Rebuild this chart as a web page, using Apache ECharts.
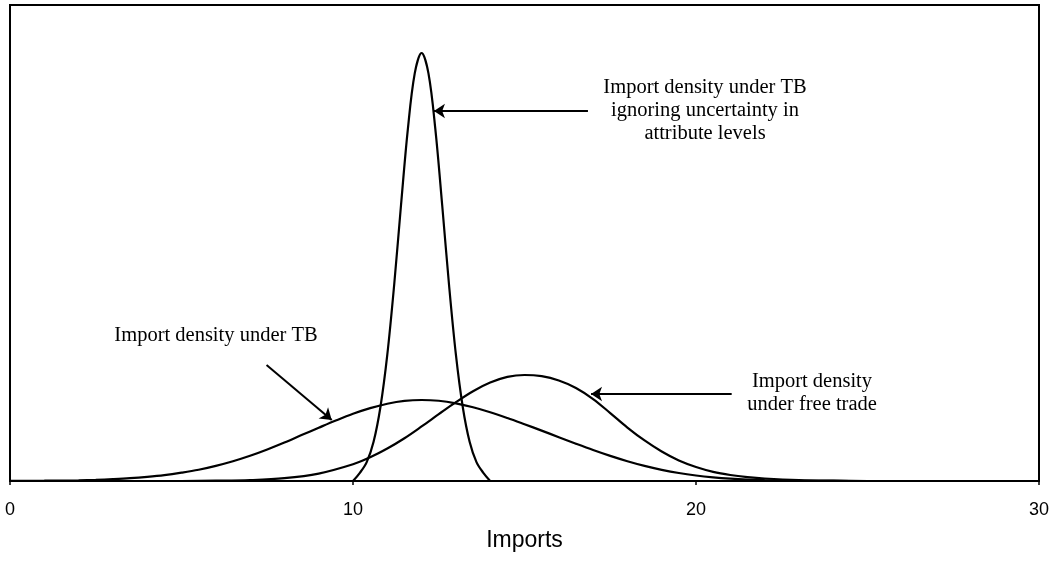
<!DOCTYPE html>
<html>
<head>
<meta charset="utf-8">
<script src="https://cdn.jsdelivr.net/npm/echarts@6/dist/echarts.min.js"></script>
<style>
html,body{margin:0;padding:0;background:#fff;}
#chart{width:1060px;height:562px;}
</style>
</head>
<body>
<div id="chart"></div>
<script>
// ---- data ----
var xTicks = [0, 10, 20, 30];
var xAxisTitle = 'Imports';

// Import density under TB ignoring uncertainty in attribute levels
var narrowX = [10, 10.2, 10.4, 10.6, 10.8, 11, 11.2, 11.4, 11.6, 11.8, 12, 12.2, 12.4, 12.6, 12.8, 13, 13.2, 13.4, 13.6, 13.8, 14];
var narrowY = [0, 0.0117, 0.0270, 0.0560, 0.1057, 0.1804, 0.2800, 0.3943, 0.5031, 0.5823, 0.6114, 0.5823, 0.5031, 0.3943, 0.2800, 0.1804, 0.1057, 0.0560, 0.0270, 0.0117, 0];

// Import density under TB
var tbX = [0, 1, 2, 2.5, 3, 3.5, 4, 4.5, 5, 5.5, 6, 6.5, 7, 7.5, 8, 8.5, 9, 9.5, 10, 10.5, 11, 11.5, 12, 12.5, 13, 13.5, 14, 14.5, 15, 15.5, 16, 16.5, 17, 17.5, 18, 18.5, 19, 19.5, 20, 20.5, 21, 21.5, 22, 23, 24, 25, 30];
var tbY = [0.0001, 0.0004, 0.0011, 0.0017, 0.0027, 0.0040, 0.0059, 0.0084, 0.0119, 0.0161, 0.0217, 0.0283, 0.0361, 0.0451, 0.0550, 0.0656, 0.0761, 0.0864, 0.0960, 0.1041, 0.1104, 0.1144, 0.1157, 0.1146, 0.1110, 0.1054, 0.0983, 0.0900, 0.0811, 0.0720, 0.0626, 0.0533, 0.0443, 0.0359, 0.0283, 0.0216, 0.0160, 0.0114, 0.0079, 0.0053, 0.0034, 0.0021, 0.0013, 0.0004, 0.0001, 0, 0];

// Import density under free trade
var ftX = [0, 5, 6, 7, 8, 9, 10, 10.5, 11, 11.5, 12, 12.5, 13, 13.5, 14, 14.5, 15, 15.5, 16, 16.5, 17, 17.5, 18, 18.5, 19, 19.5, 20, 20.5, 21, 21.5, 22, 23, 24, 25, 30];
var ftY = [0, 0, 0.0004, 0.0013, 0.0040, 0.0106, 0.0239, 0.0339, 0.0464, 0.0611, 0.0779, 0.0954, 0.1126, 0.1283, 0.1406, 0.1487, 0.1514, 0.1497, 0.1436, 0.1329, 0.1171, 0.0971, 0.0764, 0.0579, 0.0421, 0.0293, 0.0200, 0.0131, 0.0086, 0.0056, 0.0036, 0.0013, 0.0004, 0, 0];

// annotation texts
var labelNarrow = 'Import density under TB\nignoring uncertainty in\nattribute levels';
var labelTB = 'Import density under TB';
var labelFT = 'Import density\nunder free trade';

function pairs(xs, ys) { return xs.map(function (x, i) { return [x, ys[i]]; }); }

var chart = echarts.init(document.getElementById('chart'), null, {renderer: 'canvas'});

var lineBase = {
  type: 'line', showSymbol: false, symbol: 'none', smooth: 0.35,
  lineStyle: {color: '#000', width: 2.2}, silent: true, animation: false
};

var arrowStyle = {color: '#000', width: 2, type: 'solid'};
function arrow(x1, y1, x2, y2) {
  return [{coord: [x1, y1], symbol: 'none'}, {coord: [x2, y2], symbol: 'arrow', symbolSize: 11}];
}

chart.setOption({
  backgroundColor: '#fff',
  animation: false,
  grid: {left: 10, right: 21, top: 5, bottom: 81, show: true, borderColor: '#000', borderWidth: 2, containLabel: false},
  xAxis: {
    type: 'value', min: 0, max: 30, interval: 10,
    axisLine: {show: true, lineStyle: {color: '#000', width: 2}},
    axisTick: {show: true, length: 4, lineStyle: {color: '#000', width: 1.5}},
    splitLine: {show: false},
    axisLabel: {color: '#000', fontSize: 18, fontFamily: 'Liberation Sans', margin: 20,
      showMinLabel: true, showMaxLabel: true},
    name: xAxisTitle, nameLocation: 'middle', nameGap: 48,
    nameTextStyle: {color: '#000', fontSize: 23, fontFamily: 'Liberation Sans'}
  },
  yAxis: {
    type: 'value', min: 0, max: 0.68,
    axisLine: {show: true, lineStyle: {color: '#000', width: 2}},
    axisTick: {show: false}, axisLabel: {show: false}, splitLine: {show: false}
  },
  series: [
    Object.assign({}, lineBase, {
      name: 'narrow', data: pairs(narrowX, narrowY),
      markLine: {
        silent: true, animation: false, symbol: ['none', 'arrow'],
        label: {show: false}, lineStyle: arrowStyle,
        emphasis: {disabled: true},
        data: [
          arrow(16.85, 0.5286, 12.36, 0.5286),
          arrow(7.48, 0.1657, 9.38, 0.0871),
          arrow(21.04, 0.1243, 16.94, 0.1243)
        ]
      }
    }),
    Object.assign({}, lineBase, {name: 'tb', data: pairs(tbX, tbY)}),
    Object.assign({}, lineBase, {name: 'ft', data: pairs(ftX, ftY)})
  ],
  graphic: [
    {type: 'text', x: 705, y: 111, silent: true,
      style: {text: labelNarrow, fill: '#000', font: '20.5px "Liberation Serif"', align: 'center', verticalAlign: 'middle', lineHeight: 23}},
    {type: 'text', x: 216, y: 336, silent: true,
      style: {text: labelTB, fill: '#000', font: '20.5px "Liberation Serif"', align: 'center', verticalAlign: 'middle', lineHeight: 23}},
    {type: 'text', x: 812, y: 393, silent: true,
      style: {text: labelFT, fill: '#000', font: '20.5px "Liberation Serif"', align: 'center', verticalAlign: 'middle', lineHeight: 22.5}}
  ]
});
</script>
</body>
</html>
